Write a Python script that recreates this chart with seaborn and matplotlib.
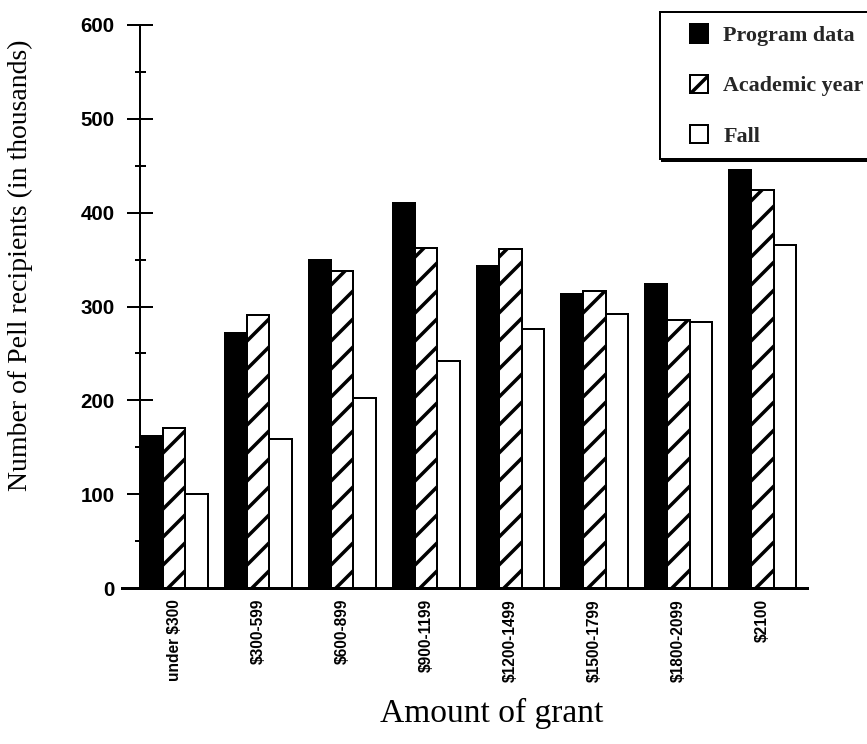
import matplotlib
matplotlib.use("Agg")
import matplotlib.pyplot as plt
import seaborn as sns
import pandas as pd
from matplotlib.legend_handler import HandlerPatch, update_from_first_child
from matplotlib.container import BarContainer
from matplotlib.patches import Rectangle

# ---- data (in thousands) ----
categories = ["under $300", "$300-599", "$600-899", "$900-1199",
              "$1200-1499", "$1500-1799", "$1800-2099", "$2100"]
series = ["Program data", "Academic year", "Fall"]
program_data = [162, 272, 350, 410, 343, 313, 324, 445]
academic_year = [170, 291, 338, 362, 361, 316, 286, 424]
fall = [100, 159, 202, 242, 276, 292, 283, 366]
y_ticks = [0, 100, 200, 300, 400, 500, 600]

df = pd.DataFrame({"grant": categories * 3,
                   "series": [s for s in series for _ in categories],
                   "recipients": program_data + academic_year + fall})

DPI = 84  # chosen so the "/" hatch spacing (dpi/6 px) matches the scan


def P(px):
    """pixels -> points at the figure dpi"""
    return px * 72.0 / DPI


sns.set_theme(style="white")
plt.rcParams["font.family"] = ["Liberation Serif", "DejaVu Serif"]
plt.rcParams["hatch.linewidth"] = P(3.5)
plt.rcParams["hatch.color"] = "black"

W, H = 867, 744
fig = plt.figure(figsize=(W / DPI, H / DPI), dpi=DPI)
ax = fig.add_axes([122 / W, 1 - 588 / H, (807 - 122) / W, (588 - 25) / H])

sns.barplot(data=df, x="grant", y="recipients", hue="series",
            order=categories, hue_order=series,
            palette=["black", "white", "white"], saturation=1,
            width=0.8, gap=0, edgecolor="black", linewidth=P(2),
            legend=False, ax=ax)

for cont, hatch in zip(ax.containers, [None, "/", None]):
    for p in cont:
        p.set_hatch(hatch)

ax.set_xlim(-0.62, 7.53)
ax.set_ylim(0, 600)
for s in ["top", "right"]:
    ax.spines[s].set_visible(False)
ax.spines["left"].set_position(("data", -0.40))
ax.spines["left"].set_linewidth(P(2))
ax.spines["left"].set_color("black")
ax.spines["bottom"].set_linewidth(P(3))
ax.spines["bottom"].set_color("black")

ax.set_yticks(y_ticks)
ax.set_yticks([50, 150, 250, 350, 450, 550], minor=True)
ax.tick_params(axis="y", which="major", direction="inout", length=P(26),
               width=P(2), pad=P(13), labelsize=P(20.5), left=True,
               colors="black")
ax.tick_params(axis="y", which="minor", direction="inout", length=P(11),
               width=P(2), left=True, colors="black")
ax.tick_params(axis="x", length=0, pad=P(11), labelsize=P(15.5),
               labelrotation=90, colors="black")
for t in ax.get_xticklabels() + ax.get_yticklabels():
    t.set_fontweight("bold")
    t.set_family(["Liberation Sans", "DejaVu Sans"])

ax.set_xlabel("Amount of grant", fontsize=P(33.5), color="black")
ax.xaxis.set_label_coords((492 - 122) / 685, (588 - 713) / 563)
ax.set_ylabel("Number of Pell recipients (in thousands)", fontsize=P(27.8),
              color="black")
ax.yaxis.set_label_coords((20 - 122) / 685, (588 - 265) / 563)
ax.xaxis.label.set_va("center")
ax.yaxis.label.set_va("center")


class RightSquare(HandlerPatch):
    def _create_patch(self, legend, orig_handle, xdescent, ydescent,
                      width, height, fontsize):
        return Rectangle((-xdescent + width - height, -ydescent),
                         height, height)


leg = ax.legend(list(ax.containers), series,
                handler_map={BarContainer: RightSquare(update_func=update_from_first_child)},
                loc="upper left", bbox_to_anchor=(660 / W, 1 - 12 / H),
                bbox_transform=fig.transFigure,
                prop={"family": "Liberation Serif", "weight": "bold",
                      "size": P(22.0)},
                frameon=True, fancybox=False, framealpha=1,
                shadow={"color": "black", "alpha": 1},
                borderpad=0.56, handlelength=1.64, handleheight=0.9,
                handletextpad=0.68, labelspacing=1.3, borderaxespad=0)
leg.get_frame().set_edgecolor("black")
leg.get_frame().set_linewidth(P(2))

fig.savefig("out.png", dpi=DPI)
